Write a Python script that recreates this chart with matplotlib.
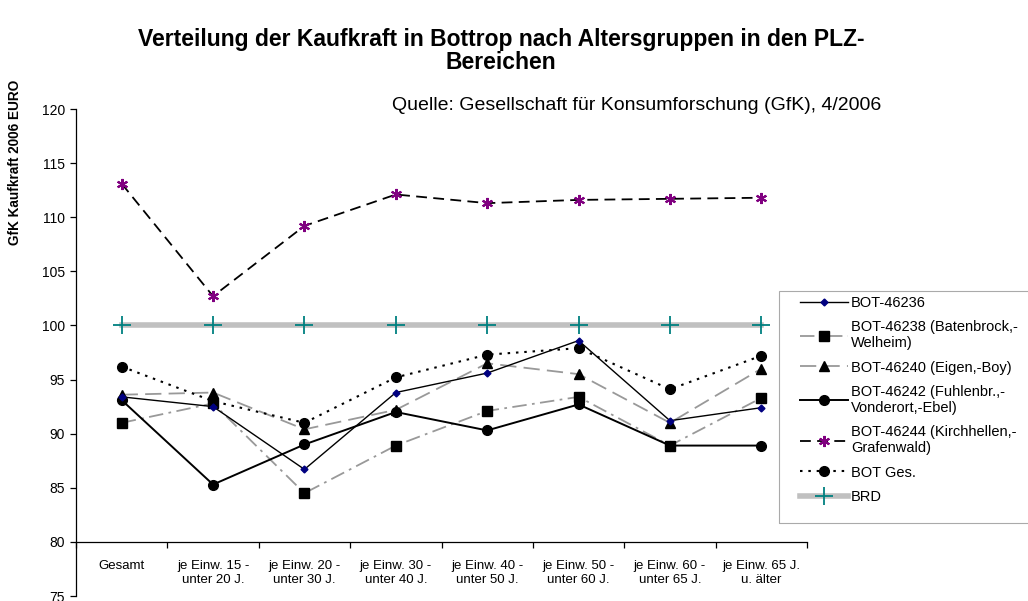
import numpy as np
import matplotlib
matplotlib.use('Agg')
import matplotlib.pyplot as plt
from matplotlib.patches import Rectangle

plt.rcParams['font.family'] = ['Liberation Sans', 'DejaVu Sans']

# Kategorien (Altersgruppen)
categories = ['Gesamt', 'je Einw. 15 -\nunter 20 J.', 'je Einw. 20 -\nunter 30 J.',
              'je Einw. 30 -\nunter 40 J.', 'je Einw. 40 -\nunter 50 J.',
              'je Einw. 50 -\nunter 60 J.', 'je Einw. 60 -\nunter 65 J.',
              'je Einw. 65 J.\nu. älter']

# Werte je PLZ-Bereich
bot_46236 = [93.4, 92.5, 86.7, 93.8, 95.6, 98.6, 91.2, 92.4]
bot_46238 = [91.0, 92.8, 84.5, 88.9, 92.1, 93.4, 88.9, 93.3]
bot_46240 = [93.6, 93.8, 90.4, 92.2, 96.5, 95.5, 91.0, 96.0]
bot_46242 = [93.1, 85.3, 89.0, 92.0, 90.3, 92.7, 88.9, 88.9]
bot_46244 = [113.1, 102.7, 109.2, 112.1, 111.3, 111.6, 111.7, 111.8]
bot_ges = [96.2, 93.0, 91.0, 95.2, 97.3, 97.9, 94.1, 97.2]
brd = [100, 100, 100, 100, 100, 100, 100, 100]

labels = ['BOT-46236', 'BOT-46238 (Batenbrock,-\nWelheim)', 'BOT-46240 (Eigen,-Boy)',
          'BOT-46242 (Fuhlenbr.,-\nVonderort,-Ebel)', 'BOT-46244 (Kirchhellen,-\nGrafenwald)',
          'BOT Ges.', 'BRD']

x = np.arange(len(categories))
gray = '#999999'

fig = plt.figure(figsize=(10.28, 6.01), dpi=100)
ax = fig.add_axes([76 / 1028, 1 - 596 / 601, (807 - 76) / 1028, (596 - 109) / 601])

ax.plot(x, bot_46236, color='black', lw=1.0, marker='D', ms=3.5,
        mfc='#000080', mec='#000080', label=labels[0], zorder=4)
ax.plot(x, bot_46238, color=gray, lw=1.3, dashes=(8, 3, 1.5, 3), marker='s', ms=7,
        mfc='black', mec='black', label=labels[1], zorder=3)
ax.plot(x, bot_46240, color=gray, lw=1.3, dashes=(9, 4), marker='^', ms=7.5,
        mfc='black', mec='black', label=labels[2], zorder=3)
ax.plot(x, bot_46242, color='black', lw=1.4, marker='o', ms=7,
        mfc='black', mec='black', label=labels[3], zorder=3)
ax.plot(x, bot_46244, color='black', lw=1.3, dashes=(6, 3.5), marker=(6, 2, 0), ms=8,
        mfc='#800080', mec='#800080', mew=1.5, label=labels[4], zorder=3)
ax.plot(x, bot_ges, color='black', lw=1.5, dashes=(1.2, 2.8), marker='o', ms=7,
        mfc='black', mec='black', label=labels[5], zorder=3)
ax.plot(x, brd, color='#c0c0c0', lw=4, marker='+', ms=13, mew=1.3,
        mfc='#008080', mec='#008080', label=labels[6], zorder=2)

ax.set_xlim(-0.5, 7.5)
ax.set_ylim(75, 120)
ax.set_yticks(np.arange(75, 121, 5))
ax.spines['top'].set_visible(False)
ax.spines['right'].set_visible(False)
ax.spines['bottom'].set_position(('data', 80))
ax.spines['left'].set_linewidth(0.9)
ax.spines['bottom'].set_linewidth(0.9)

ax.set_xticks(np.arange(-0.5, 8, 1))
ax.set_xticklabels([])
ax.set_xticks(x, minor=True)
ax.set_xticklabels(categories, minor=True, fontsize=9.5)
ax.tick_params(axis='x', which='major', direction='out', length=4, width=0.9)
ax.tick_params(axis='x', which='minor', length=0, pad=13)
ax.tick_params(axis='y', direction='out', length=4, width=0.9, labelsize=10, pad=4)

fig.text(501 / 1028, 1 - 51 / 601, 'Verteilung der Kaufkraft in Bottrop nach Altersgruppen in den PLZ-\nBereichen',
         ha='center', va='center', fontsize=16.5, fontweight='bold', linespacing=1.0)
fig.text(15 / 1028, 1 - 162 / 601, 'GfK Kaufkraft 2006 EURO', rotation=90,
         ha='center', va='center', fontsize=9.8, fontweight='bold')
fig.text(392 / 1028, 1 - 105 / 601, 'Quelle: Gesellschaft für Konsumforschung (GfK), 4/2006',
         ha='left', va='center', fontsize=14)

leg = fig.legend(loc='upper left', bbox_to_anchor=(797 / 1028, 1 - 293 / 601),
                 bbox_transform=fig.transFigure, fontsize=10.5, frameon=False,
                 handlelength=3.3, labelspacing=0.7, borderpad=0.2,
                 handletextpad=0.2, borderaxespad=0)

# Rahmen der Legende (links mit Abstand zu den Symbolen)
fig.canvas.draw()
bb = leg.get_window_extent().transformed(fig.transFigure.inverted())
y_bottom = bb.y0 - 16 / 601
fig.patches.append(Rectangle((779 / 1028, y_bottom), 1.05 - 779 / 1028,
                             (1 - 291 / 601) - y_bottom,
                             transform=fig.transFigure, fill=False,
                             edgecolor='#aaaaaa', lw=0.8, zorder=5))

fig.savefig('out.png', dpi=100)
